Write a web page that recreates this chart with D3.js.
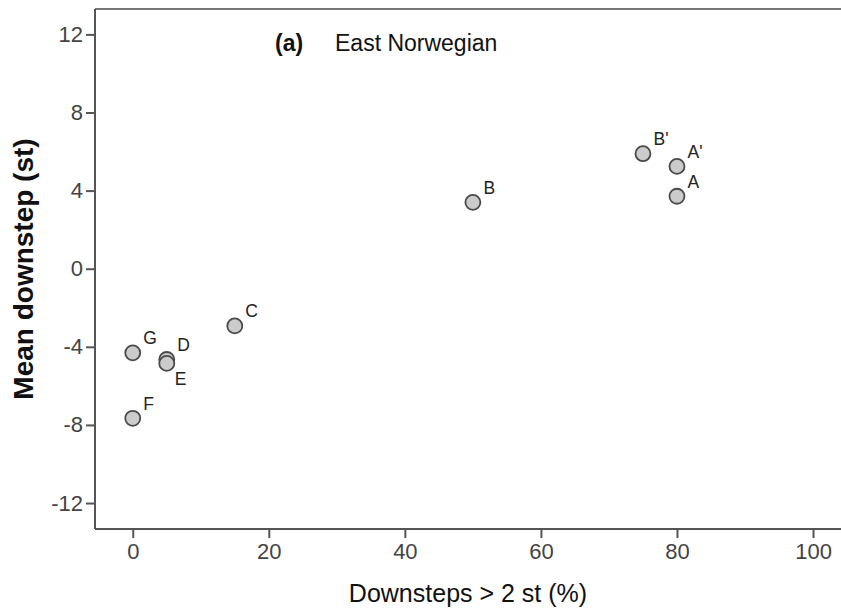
<!DOCTYPE html>
<html>
<head>
<meta charset="utf-8">
<script src="https://cdn.jsdelivr.net/npm/d3@7"></script>
<style>
  html, body { margin: 0; padding: 0; background: #fff; }
  svg { display: block; font-family: "Liberation Sans", Arial, sans-serif; }
</style>
</head>
<body>
<svg id="chart" width="841" height="612"></svg>
<script>
// Downstep measurements per condition, East Norwegian
const labels      = ["A", "A'", "B", "B'", "C", "D", "E", "F", "G"];
const pctOver2st  = [80, 80, 50, 75, 15, 5, 5, 0, 0];
const meanDownst  = [3.71, 5.24, 3.40, 5.89, -2.93, -4.65, -4.85, -7.66, -4.31];
// label position relative to its point: "ur" = upper right, "lr" = lower right
const labelPos    = ["ur", "ur", "ur", "ur", "ur", "ur", "lr", "ur", "ur"];

const xTicks = [0, 20, 40, 60, 80, 100];
const yTicks = [-12, -8, -4, 0, 4, 8, 12];

const svg = d3.select("#chart");
const plot = { left: 95, top: 9, right: 845, bottom: 529 };

const x = d3.scaleLinear().domain([-5.55, 104.7]).range([plot.left, plot.right]);
const y = d3.scaleLinear().domain([-13.33, 13.3]).range([plot.bottom, plot.top]);

const axisColor = "#555";

// frame: top edge
svg.append("line")
  .attr("x1", plot.left).attr("x2", plot.right)
  .attr("y1", plot.top).attr("y2", plot.top)
  .attr("stroke", "#777").attr("stroke-width", 2);

// tick labels use a plain hyphen for negatives
const fmt = d => String(d);

// x axis
const gx = svg.append("g")
  .attr("transform", `translate(0,${plot.bottom})`)
  .call(d3.axisBottom(x).tickValues(xTicks).tickFormat(fmt).tickSize(9).tickPadding(5).tickSizeOuter(0));
// y axis
const gy = svg.append("g")
  .attr("transform", `translate(${plot.left},0)`)
  .call(d3.axisLeft(y).tickValues(yTicks).tickFormat(fmt).tickSize(9).tickPadding(3).tickSizeOuter(0));

[gx, gy].forEach(g => {
  g.select(".domain").attr("stroke", axisColor).attr("stroke-width", 2);
  g.selectAll(".tick line").attr("stroke", axisColor).attr("stroke-width", 2);
  g.selectAll(".tick text")
    .attr("fill", "#444")
    .style("font-size", "22px")
    .style("font-family", "'Liberation Sans', Arial, sans-serif");
});
gy.select(".domain").attr("d", `M0,${plot.top}V${plot.bottom}`);
gx.select(".domain").attr("d", `M${plot.left},0H${plot.right}`);

// axis titles
svg.append("text")
  .attr("x", (plot.left + 841) / 2).attr("y", 602)
  .attr("text-anchor", "middle")
  .style("font-size", "25px").attr("fill", "#111")
  .text("Downsteps > 2 st (%)");

svg.append("text")
  .attr("transform", `translate(33,${(plot.top + plot.bottom) / 2}) rotate(-90)`)
  .attr("text-anchor", "middle")
  .style("font-size", "28px").style("font-weight", "bold").attr("fill", "#111")
  .text("Mean downstep (st)");

// panel title
svg.append("text")
  .attr("x", 275).attr("y", 51)
  .style("font-size", "23px").style("font-weight", "bold").attr("fill", "#111")
  .text("(a)");
svg.append("text")
  .attr("x", 335).attr("y", 51)
  .style("font-size", "23px").attr("fill", "#111")
  .text("East Norwegian");

// points
const data = labels.map((l, i) => ({ label: l, x: pctOver2st[i], y: meanDownst[i], pos: labelPos[i] }));

svg.append("g").selectAll("circle")
  .data(data)
  .join("circle")
  .attr("cx", d => x(d.x))
  .attr("cy", d => y(d.y))
  .attr("r", 7.5)
  .attr("fill", "#cbcbcb")
  .attr("stroke", "#4a4a4a")
  .attr("stroke-width", 1.8);

svg.append("g").selectAll("text")
  .data(data)
  .join("text")
  .attr("x", d => x(d.x) + (d.pos === "ur" ? 10.5 : 8))
  .attr("y", d => d.pos === "ur" ? y(d.y) - 8.5 : y(d.y) + 22)
  .style("font-size", "17.5px")
  .attr("fill", "#222")
  .text(d => d.label);
</script>
</body>
</html>
